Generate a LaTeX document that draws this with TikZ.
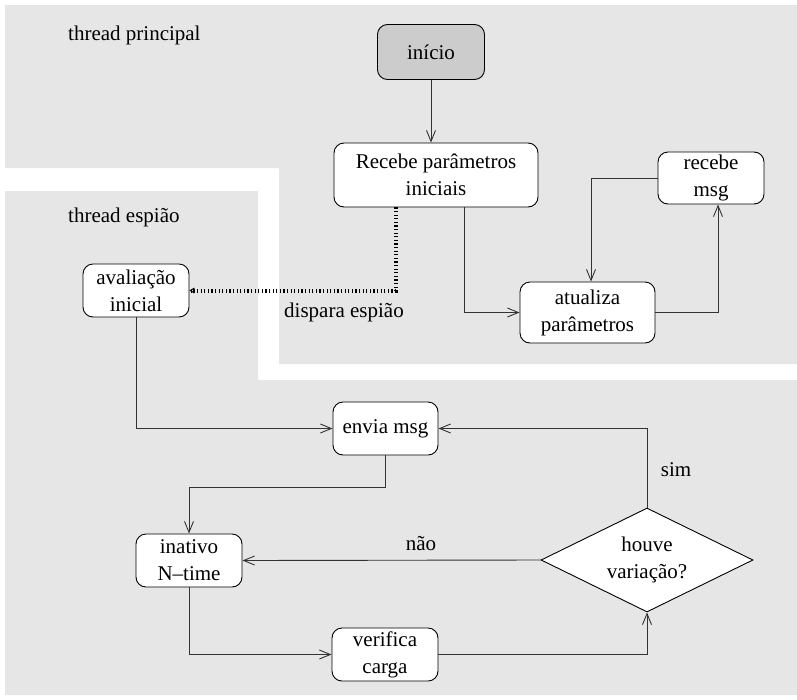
\documentclass[tikz,border=0pt]{standalone}
\usepackage{fontspec}
\setmainfont{Liberation Serif}
\usetikzlibrary{arrows.meta,shapes.geometric,calc}
\definecolor{panel}{HTML}{E6E6E6}
\definecolor{startfill}{HTML}{CCCCCC}
\definecolor{ink}{HTML}{333333}
\tikzset{
  box/.style={draw=black, fill=white, rounded corners=10pt, line width=0.9pt,
    inner sep=0pt, align=center, font=\fontsize{21}{27}\selectfont},
  decision/.style={draw=black, fill=white, diamond, aspect=2, line width=0.9pt,
    inner sep=0pt, align=center, font=\fontsize{21}{27}\selectfont},
  flow/.style={draw=ink, line width=0.9pt, -{Straight Barb[length=11pt,width=9pt]}},
  spy/.style={draw=black, line width=4pt, dash pattern=on 1.2pt off 2.4pt,
    -{Straight Barb[length=4pt,width=5pt,line width=1pt]}},
  lbl/.style={font=\fontsize{21}{27}\selectfont, inner sep=0pt},
}
\begin{document}
\begin{tikzpicture}[x=1pt,y=-1pt]
  \useasboundingbox (0,0) rectangle (797,699);
  % the two thread areas
  \fill[panel] (5,5) -- (797,5) -- (797,364) -- (279,364) -- (279,168) -- (5,168) -- cycle;
  \fill[panel] (5,191) -- (258,191) -- (258,380) -- (797,380) -- (797,695) -- (5,695) -- cycle;

  \node[lbl, anchor=west] (tp) at (68,35) {thread principal};
  \node[lbl, anchor=west] (te) at (68,217) {thread espião};

  % main thread
  \node[box, fill=startfill, minimum width=107pt, minimum height=55pt] (inicio) at (431,52) {início};
  \node[box, minimum width=204pt, minimum height=64pt] (params) at (436,175) {Recebe parâmetros\\iniciais};
  \node[box, minimum width=106pt, minimum height=52pt] (msgin) at (711,178) {recebe\\msg};
  \node[box, minimum width=135pt, minimum height=61pt] (atualiza) at (587.5,312.5) {atualiza\\parâmetros};

  % spy thread
  \node[box, minimum width=106pt, minimum height=53pt] (avalia) at (136,290.5) {avaliação\\inicial};
  \node[box, minimum width=105pt, minimum height=53pt] (envia) at (385.5,428.5) {envia msg};
  \node[box, minimum width=106pt, minimum height=53pt] (inativo) at (189,560.5) {inativo\\N--time};
  \node[box, minimum width=106pt, minimum height=53pt] (verifica) at (385,654.5) {verifica\\carga};
  \node[decision, minimum width=212pt, minimum height=104pt] (houve) at (647,560) {houve\\variação?};

  % main thread connectors
  \draw[flow] (inicio.south) -- (inicio.south |- params.north);
  \draw[flow] ([xshift=28pt]params.south) |- (atualiza.west);
  \draw[flow] (msgin.west) -| ([xshift=3.5pt]atualiza.north);
  \draw[flow] (atualiza.east) -| ([xshift=7pt]msgin.south);

  % spawning the spy thread
  \draw[spy] ([xshift=-40pt]params.south) |- (avalia.east);
  \node[lbl] (dispara) at (344,312) {dispara espião};

  % spy thread connectors
  \coordinate (bend) at (189,487);
  \draw[flow] (avalia.south) |- (envia.west);
  \draw[flow] (houve.north) |- (envia.east);
  \draw[flow] (envia.south) |- (bend) -- (inativo.north);
  \draw[flow] (houve.west) -- (inativo.east);
  \draw[flow] (inativo.south) |- (verifica.west);
  \draw[flow] (verifica.east) -| (houve.south);

  \node[lbl] (sim) at (676,470) {sim};
  \node[lbl] (nao) at (421,544) {não};
\end{tikzpicture}
\end{document}
